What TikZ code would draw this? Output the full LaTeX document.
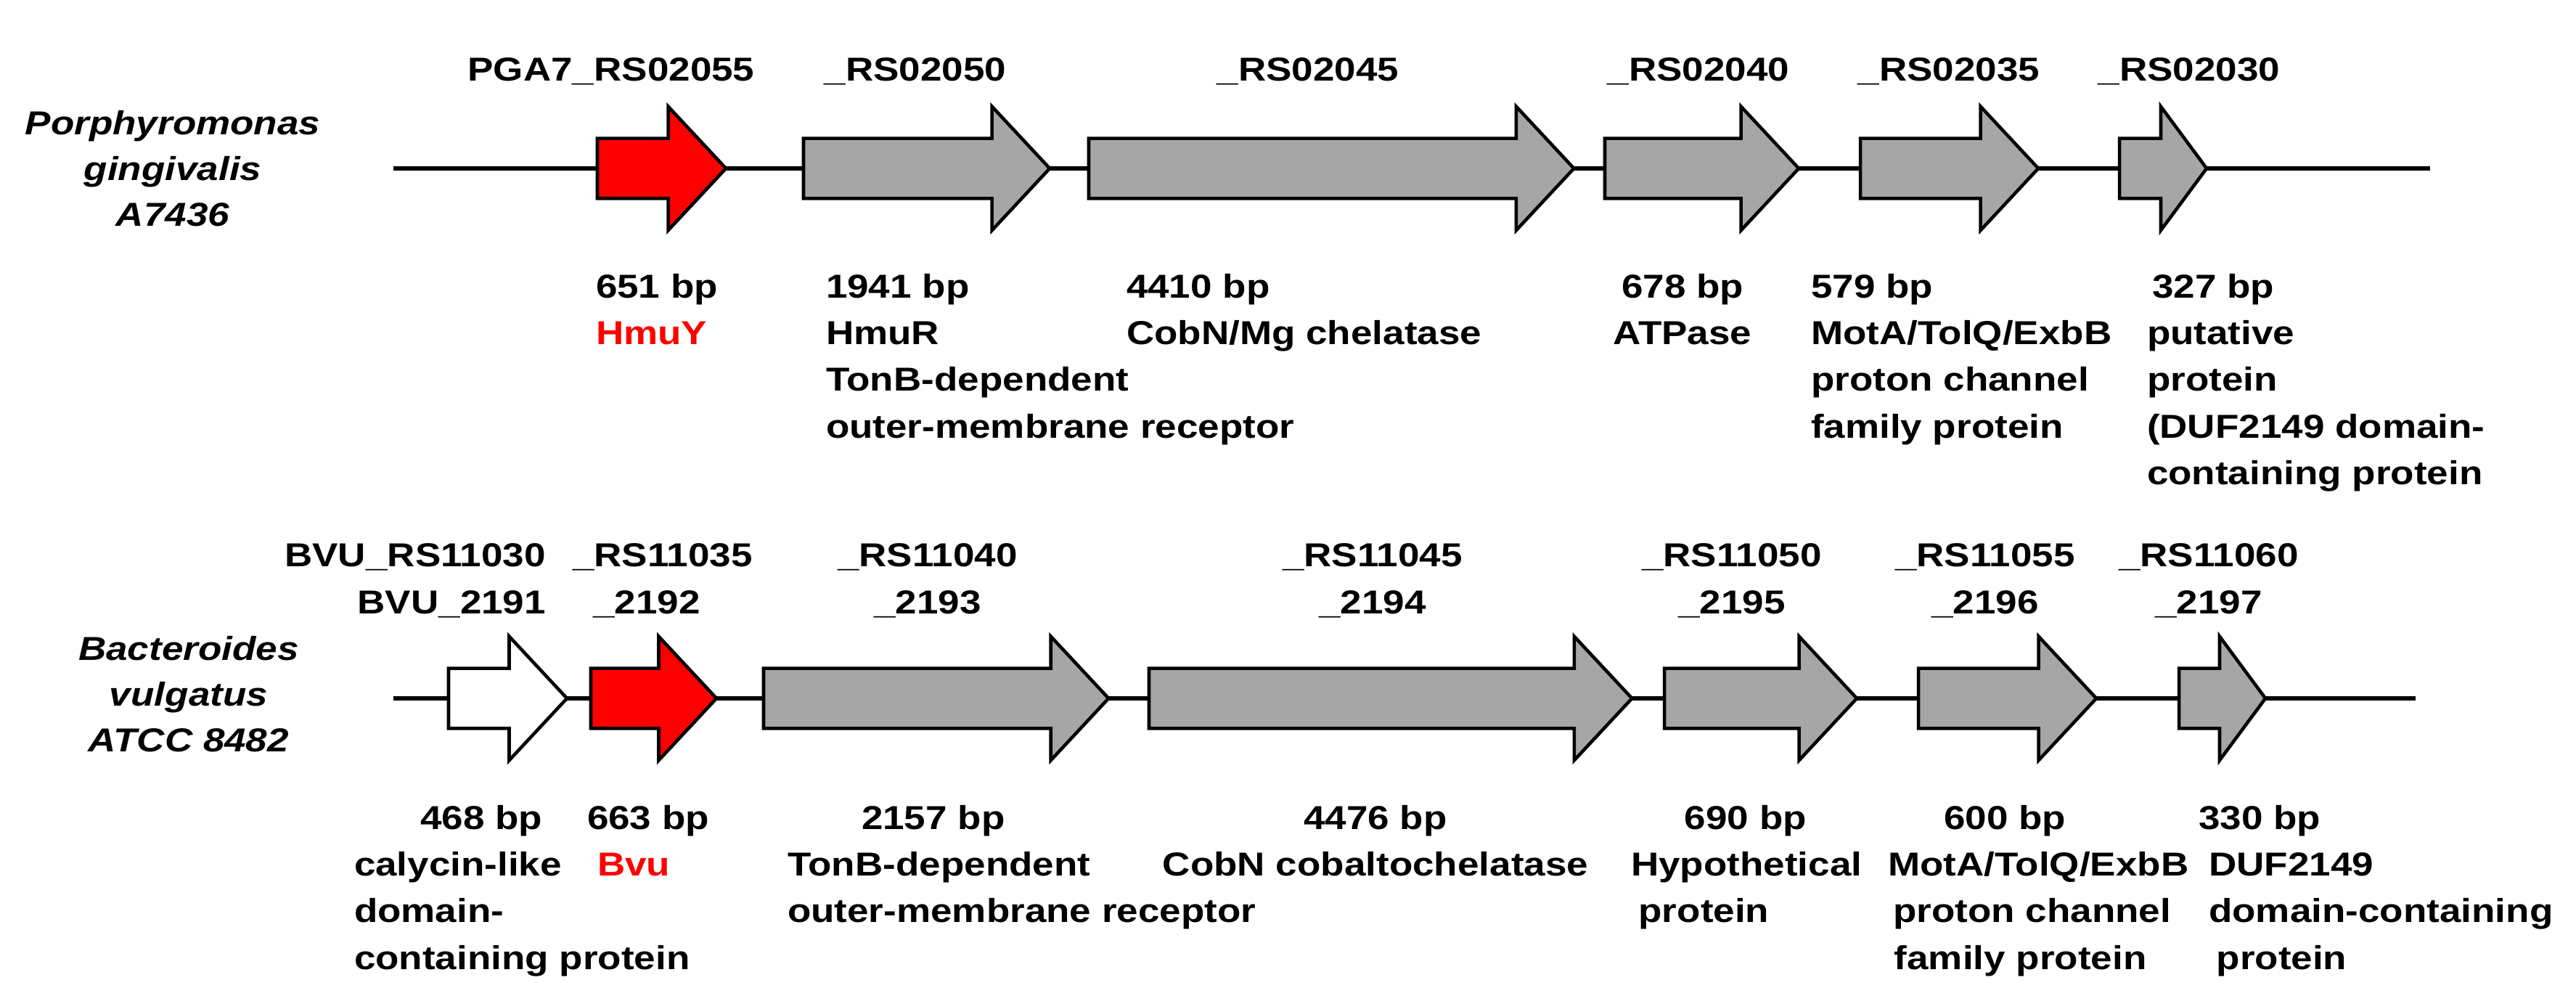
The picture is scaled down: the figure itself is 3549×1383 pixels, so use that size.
\documentclass[tikz,border=0pt]{standalone}
\usepackage{fontspec}
\setmainfont{Liberation Sans}[FakeStretch=1.16]
\usetikzlibrary{shapes.arrows}
\definecolor{hmured}{RGB}{255,0,0}
\definecolor{genegray}{RGB}{166,166,166}
\colorlet{geneline}{black}

\begin{document}
\begin{tikzpicture}[x=0.01cm, y=-0.01cm, font=\fontsize{13}{18.3}\selectfont\bfseries,
	    every node/.style={inner sep=0pt, outer sep=0pt},
	    gene/.style={single arrow, draw=geneline, line width=1.3pt, fill=genegray, anchor=tail,
	      inner xsep=0pt, inner ysep=0.39cm, single arrow head extend=0.44cm, single arrow tip angle=94},
	    short gene/.style={gene, single arrow tip angle=107},
	    backbone/.style={draw=geneline, line width=1.9pt},
	    locus/.style={anchor=north, align=center},
	    desc/.style={anchor=north west, align=left},
	    species/.style={font=\fontsize{13}{18}\selectfont\bfseries\itshape, align=center}]
	    \useasboundingbox (0,0) rectangle (3549,1383);

		% Porphyromonas gingivalis A7436
		\node[species] (pg) at (238,232) {Porphyromonas\\gingivalis\\A7436};
		\coordinate (pg-start) at (542,232);
		\coordinate (pg-end) at (3348,232);
		\draw[backbone] (pg-start) -- (pg-end);
		\node[gene, fill=hmured, minimum height=1.77cm] (pg1) at (823,232) {};
		\node[gene, minimum height=3.39cm] (pg2) at (1107,232) {};
		\node[gene, minimum height=6.68cm] (pg3) at (1500,232) {};
		\node[gene, minimum height=2.67cm] (pg4) at (2211,232) {};
		\node[gene, minimum height=2.45cm] (pg5) at (2563,232) {};
		\node[short gene, minimum height=1.20cm] (pg6) at (2920,232) {};
		\node[anchor=base] (pg1-id) at (842,112) {PGA7\_RS02055};
		\node[anchor=base] (pg2-id) at (1261,112) {\_RS02050};
		\node[anchor=base] (pg3-id) at (1802,112) {\_RS02045};
		\node[anchor=base] (pg4-id) at (2340,112) {\_RS02040};
		\node[anchor=base] (pg5-id) at (2685,112) {\_RS02035};
		\node[anchor=base] (pg6-id) at (3016,112) {\_RS02030};
		\node[desc] (pg1-txt) at (821,377) {651 bp\\\textcolor{hmured}{HmuY}};
		\node[desc] (pg2-txt) at (1138,377) {1941 bp\\HmuR\\TonB-dependent\\outer-membrane receptor};
		\node[desc] (pg3-txt) at (1552,377) {4410 bp\\CobN/Mg chelatase};
		\node[locus] (pg4-txt) at (2318,377) {678 bp\\ATPase};
		\node[desc] (pg5-txt) at (2495,377) {579 bp\\MotA/TolQ/ExbB\\proton channel\\family protein};
		\node[desc] (pg6-txt) at (2958,377) {\hspace*{2pt}327 bp\\putative\\protein\\(DUF2149 domain-\\containing protein};

		% Bacteroides vulgatus ATCC 8482
		\node[species] (bv) at (260,956) {Bacteroides\\vulgatus\\ATCC 8482};
		\coordinate (bv-start) at (542,962);
		\coordinate (bv-end) at (3328,962);
		\draw[backbone] (bv-start) -- (bv-end);
		\node[gene, fill=white, minimum height=1.63cm] (bv1) at (618,962) {};
		\node[gene, fill=hmured, minimum height=1.73cm] (bv2) at (814,962) {};
		\node[gene, minimum height=4.75cm] (bv3) at (1052,962) {};
		\node[gene, minimum height=6.65cm] (bv4) at (1583,962) {};
		\node[gene, minimum height=2.65cm] (bv5) at (2293,962) {};
		\node[gene, minimum height=2.45cm] (bv6) at (2643,962) {};
		\node[short gene, minimum height=1.19cm] (bv7) at (3002,962) {};
		\node[locus, anchor=north east, align=right] (bv1-id) at (752,749) {BVU\_RS11030\\BVU\_2191};
		\node[desc] (bv2-id) at (789,749) {\_RS11035\\\hspace*{8pt}\_2192};
		\node[locus] (bv3-id) at (1278,749) {\_RS11040\\\_2193};
		\node[locus] (bv4-id) at (1891,749) {\_RS11045\\\_2194};
		\node[locus] (bv5-id) at (2386,749) {\_RS11050\\\_2195};
		\node[locus] (bv6-id) at (2735,749) {\_RS11055\\\_2196};
		\node[locus] (bv7-id) at (3043,749) {\_RS11060\\\_2197};
		\node[desc] (bv1-txt) at (488,1109) {\hspace*{26pt}468 bp\\calycin-like\\domain-\\containing protein};
		\node[desc] (bv2-txt) at (809,1109) {663 bp\\\hspace*{4pt}\textcolor{hmured}{Bvu}};
		\node[desc] (bv3-txt) at (1085,1109) {\hspace*{29pt}2157 bp\\TonB-dependent\\outer-membrane receptor};
		\node[locus] (bv4-txt) at (1895,1109) {4476 bp\\CobN cobaltochelatase};
		\node[desc] (bv5-txt) at (2247,1109) {\hspace*{21pt}690 bp\\Hypothetical\\\hspace*{3pt}protein};
		\node[desc] (bv6-txt) at (2601,1109) {\hspace*{22pt}600 bp\\MotA/TolQ/ExbB\\\hspace*{2pt}proton channel\\\hspace*{2.5pt}family protein};
		\node[desc] (bv7-txt) at (3029,1109) {330 bp\\\hspace*{4pt}DUF2149\\\hspace*{4pt}domain-containing\\\hspace*{7pt}protein};

	  \end{tikzpicture}
\end{document}
